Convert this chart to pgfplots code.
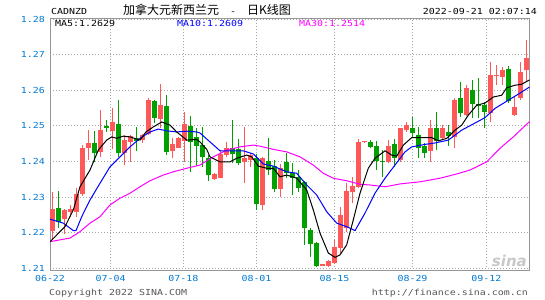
\documentclass[border=0pt]{standalone}
\usepackage{fontspec}
\usepackage{pgfplots}
\pgfplotsset{compat=1.18}
\usepackage{pgfplotstable}
\setmonofont[FakeStretch=1.2]{DejaVu Sans Mono}
\newfontfamily\cjk{Noto Sans CJK SC}
\newfontfamily\wm{DejaVu Sans}
\newcommand\mono{\ttfamily\fontsize{8.3bp}{9bp}\selectfont}
\definecolor{candlered}{RGB}{255,88,88}
\definecolor{candlegreen}{RGB}{0,160,0}
\definecolor{tickblue}{RGB}{0,120,210}
\definecolor{mablue}{RGB}{0,0,255}
\definecolor{mamag}{RGB}{255,0,255}
\definecolor{gridgray}{RGB}{165,165,165}
\definecolor{framegray}{RGB}{150,150,150}
\definecolor{footgray}{RGB}{85,85,85}
\definecolor{wmgray}{RGB}{200,200,200}

\pgfplotstableread{
i o h l c
1 1.2205 1.2315 1.2180 1.2267
3 1.2239 1.2267 1.2197 1.2264
4 1.2258 1.2278 1.2245 1.2267
5 1.2259 1.2325 1.2245 1.2308
6 1.2309 1.2446 1.2303 1.2439
7 1.2437 1.2488 1.2404 1.2451
9 1.2427 1.2544 1.2413 1.2488
11 1.2486 1.2549 1.2434 1.2511
13 1.2424 1.2474 1.2390 1.2460
14 1.2455 1.2474 1.2399 1.2471
16 1.2460 1.2477 1.2451 1.2474
17 1.2477 1.2577 1.2474 1.2572
19 1.2518 1.2617 1.2493 1.2558
21 1.2430 1.2465 1.2409 1.2449
22 1.2439 1.2468 1.2437 1.2467
23 1.2458 1.2539 1.2399 1.2505
28 1.2351 1.2368 1.2348 1.2365
29 1.2355 1.2432 1.2353 1.2421
30 1.2418 1.2455 1.2413 1.2439
33 1.2399 1.2497 1.2339 1.2411
34 1.2404 1.2423 1.2385 1.2418
36 1.2278 1.2413 1.2264 1.2409
39 1.2322 1.2393 1.2299 1.2383
46 1.2108 1.2112 1.2106 1.2111
47 1.2108 1.2124 1.2105 1.2121
48 1.2115 1.2180 1.2113 1.2161
49 1.2157 1.2273 1.2143 1.2250
50 1.2213 1.2339 1.2203 1.2318
51 1.2315 1.2357 1.2283 1.2331
52 1.2329 1.2462 1.2325 1.2455
53 1.2454 1.2458 1.2453 1.2457
57 1.2399 1.2460 1.2395 1.2443
59 1.2404 1.2495 1.2399 1.2493
60 1.2488 1.2511 1.2483 1.2502
64 1.2430 1.2516 1.2399 1.2493
66 1.2467 1.2502 1.2460 1.2495
68 1.2469 1.2577 1.2437 1.2572
70 1.2530 1.2614 1.2527 1.2605
74 1.2536 1.2679 1.2511 1.2642
75 1.2639 1.2670 1.2614 1.2642
76 1.2637 1.2665 1.2614 1.2656
78 1.2530 1.2581 1.2527 1.2553
79 1.2577 1.2679 1.2572 1.2651
80 1.2656 1.2742 1.2623 1.2691
}\redtab

\pgfplotstableread{
i o h l c
2 1.2270 1.2317 1.2213 1.2229
8 1.2451 1.2485 1.2399 1.2424
10 1.2499 1.2516 1.2483 1.2495
12 1.2505 1.2572 1.2413 1.2423
15 1.2467 1.2497 1.2430 1.2457
18 1.2570 1.2574 1.2507 1.2521
20 1.2555 1.2586 1.2418 1.2427
24 1.2499 1.2527 1.2371 1.2454
25 1.2468 1.2493 1.2387 1.2443
26 1.2446 1.2497 1.2384 1.2413
27 1.2411 1.2418 1.2345 1.2362
31 1.2439 1.2516 1.2395 1.2420
32 1.2434 1.2462 1.2390 1.2396
35 1.2411 1.2421 1.2264 1.2281
37 1.2402 1.2467 1.2362 1.2376
38 1.2387 1.2404 1.2315 1.2322
40 1.2399 1.2423 1.2355 1.2367
41 1.2367 1.2395 1.2306 1.2353
42 1.2357 1.2376 1.2315 1.2325
43 1.2343 1.2345 1.2166 1.2213
44 1.2208 1.2213 1.2133 1.2169
45 1.2171 1.2175 1.2103 1.2108
54 1.2455 1.2460 1.2437 1.2441
55 1.2443 1.2458 1.2376 1.2402
56 1.2402 1.2432 1.2357 1.2399
58 1.2449 1.2462 1.2385 1.2411
61 1.2495 1.2525 1.2467 1.2479
62 1.2474 1.2497 1.2411 1.2439
63 1.2443 1.2451 1.2411 1.2424
65 1.2493 1.2539 1.2432 1.2457
67 1.2483 1.2502 1.2443 1.2471
69 1.2577 1.2623 1.2525 1.2535
71 1.2602 1.2630 1.2523 1.2561
72 1.2561 1.2633 1.2521 1.2555
73 1.2558 1.2567 1.2493 1.2539
77 1.2661 1.2667 1.2563 1.2570
}\greentab

\begin{document}
\begin{tikzpicture}
\useasboundingbox (-50bp,-29.5bp) rectangle (495bp,270.5bp);
\begin{axis}[
  at={(0,0)}, anchor=south west,
  scale only axis, width=479.5bp, height=251.5bp,
  xmin=0.5833, xmax=80.5, ymin=1.2094, ymax=1.28,
  axis line style={draw=framegray, line width=1bp},
  xtick={0.5833,10.7,22.8,35,48,61,73.3},
  xticklabels={06-22,07-04,07-18,08-01,08-15,08-29,09-12},
  ytick={1.21,1.22,1.23,1.24,1.25,1.26,1.27,1.28},
  grid=major,
  major grid style={gridgray, line width=0.9bp, dash pattern=on 1bp off 2bp},
  major tick length=0pt,
  tick label style={font=\mono, text=tickblue},
  yticklabel style={xshift=-1.5bp},
  xticklabel style={yshift=-1bp},
  /pgf/number format/fixed, /pgf/number format/fixed zerofill,
  /pgf/number format/precision=2, /pgf/number format/assume math mode=true,
]
% wicks
\addplot[draw=none, mark=none, forget plot, error bars/.cd, y dir=plus, y explicit, error mark=none,
  error bar style={line width=1bp, draw=candlered, solid}]
  table[x=i, y=l, y error plus expr=\thisrow{h}-\thisrow{l}] {\redtab};
\addplot[draw=none, mark=none, forget plot, error bars/.cd, y dir=plus, y explicit, error mark=none,
  error bar style={line width=1bp, draw=candlegreen, solid}]
  table[x=i, y=l, y error plus expr=\thisrow{h}-\thisrow{l}] {\greentab};
% bodies
\addplot[draw=none, mark=none, forget plot, error bars/.cd, y dir=plus, y explicit, error mark=none,
  error bar style={line width=5bp, draw=candlered, solid}]
  table[x=i, y=o, y error plus expr=\thisrow{c}-\thisrow{o}] {\redtab};
\addplot[draw=none, mark=none, forget plot, error bars/.cd, y dir=plus, y explicit, error mark=none,
  error bar style={line width=5bp, draw=candlegreen, solid}]
  table[x=i, y=c, y error plus expr=\thisrow{o}-\thisrow{c}] {\greentab};
% MA30
\addplot[mamag, line width=1bp, mark=none] coordinates {
(0.6,1.2175)(2.25,1.2180)(3.92,1.2185)(5.58,1.2203)(7.25,1.2227)(8.92,1.2245)(10.58,1.2278)(12.25,1.2297)(13.92,1.2311)(15.58,1.2329)(17.25,1.2346)(19.47,1.2362)(21.13,1.2371)(23.37,1.2381)(25.58,1.2390)(27.8,1.2413)(30.03,1.2432)(32.25,1.2441)(34.47,1.2446)(35.58,1.2443)(37.8,1.2434)(40.03,1.2427)(42.25,1.2413)(44.47,1.2390)(46.13,1.2367)(47.8,1.2353)(50.03,1.2346)(52.25,1.2336)(53.92,1.2334)(56.42,1.2329)(58.92,1.2337)(62.25,1.2343)(65.58,1.2353)(68.37,1.2365)(70.58,1.2376)(73.37,1.2399)(75.58,1.2437)(77.8,1.2469)(80.5,1.2512)};
% MA10
\addplot[mablue, line width=1bp, mark=none] coordinates {
(0.6,1.2238)(2.8,1.2227)(4.47,1.2206)(4.92,1.2206)(5.87,1.2245)(7.25,1.2292)(8.92,1.2339)(10.58,1.2385)(12.25,1.2413)(13.92,1.2441)(15.58,1.2465)(17.25,1.2483)(18.63,1.2491)(20.03,1.2486)(21.7,1.2483)(23.37,1.2485)(25.03,1.2483)(25.58,1.2480)(27.25,1.2455)(28.92,1.2430)(30.58,1.2430)(32.8,1.2430)(34.47,1.2421)(36.13,1.2393)(37.8,1.2387)(40.03,1.2371)(41.7,1.2367)(43.37,1.2334)(45.03,1.2306)(46.7,1.2259)(48.37,1.2227)(50.03,1.2217)(51.42,1.2206)(53.08,1.2255)(54.75,1.2311)(56.42,1.2353)(58.08,1.2390)(59.75,1.2427)(60.87,1.2441)(63.08,1.2448)(64.75,1.2452)(66.97,1.2460)(69.2,1.2488)(71.42,1.2508)(73.08,1.2523)(74.75,1.2549)(76.97,1.2572)(78.63,1.2589)(80.5,1.2609)};
% MA5
\addplot[black, line width=1bp, mark=none] coordinates {
(0.6,1.2175)(3.08,1.2217)(4.47,1.2264)(5.58,1.2329)(7.25,1.2376)(8.63,1.2432)(10.03,1.2460)(10.87,1.2469)(11.7,1.2465)(12.8,1.2471)(13.92,1.2469)(15.58,1.2460)(16.58,1.2483)(17.8,1.2497)(19.2,1.2511)(20.58,1.2502)(21.7,1.2483)(23.37,1.2460)(25.03,1.2462)(25.58,1.2455)(26.7,1.2434)(27.25,1.2413)(28.92,1.2399)(30.58,1.2399)(31.7,1.2409)(33.37,1.2418)(34.2,1.2413)(35.3,1.2387)(36.7,1.2381)(37.8,1.2381)(38.92,1.2357)(40.03,1.2362)(41.7,1.2353)(43.37,1.2320)(44.47,1.2264)(45.58,1.2199)(46.97,1.2143)(48.08,1.2131)(48.92,1.2138)(50.03,1.2166)(51.13,1.2236)(52.25,1.2311)(53.63,1.2381)(54.75,1.2409)(56.42,1.2430)(57.53,1.2418)(58.37,1.2415)(59.47,1.2446)(60.87,1.2467)(62.53,1.2467)(64.2,1.2467)(65.3,1.2458)(66.7,1.2465)(68.08,1.2488)(69.2,1.2502)(70.3,1.2530)(71.7,1.2558)(73.08,1.2564)(74.47,1.2581)(75.87,1.2586)(76.7,1.2607)(78.08,1.2614)(79.2,1.2617)(80.5,1.2629)};
\end{axis}
% header
\node[anchor=base west, inner sep=0, font=\mono] at (1bp,255.5bp) {CADNZD};
\node[anchor=base west, inner sep=0, font=\cjk\fontsize{12bp}{12bp}\selectfont] at (73bp,255.9bp) {加拿大元新西兰元};
\node[anchor=base, inner sep=0, font=\mono] at (183bp,255.5bp) {-};
\node[anchor=base west, inner sep=0, font=\cjk\fontsize{12bp}{12bp}\selectfont] at (197bp,255.9bp) {日K线图};
\node[anchor=base east, inner sep=0, font=\mono] at (487bp,255.5bp) {2022-09-21 02:07:14};
\node[anchor=base west, inner sep=0, font=\mono, text=black] at (5bp,243.5bp) {MA5:1.2629};
\node[anchor=base west, inner sep=0, font=\mono, text=mablue] at (127bp,243.5bp) {MA10:1.2609};
\node[anchor=base west, inner sep=0, font=\mono, text=mamag] at (249bp,243.5bp) {MA30:1.2514};
% footer
\node[anchor=base west, inner sep=0, font=\mono, text=footgray] at (-1bp,-25bp) {Copyright 2022 SINA.COM};
\node[anchor=base east, inner sep=0, font=\mono, text=footgray] at (478bp,-25bp) {http://finance.sina.com.cn};
\node[anchor=base east, inner sep=0, text=wmgray, font=\wm\bfseries\itshape\fontsize{15bp}{15bp}\selectfont] at (477bp,4.5bp) {sina};
\end{tikzpicture}
\end{document}
